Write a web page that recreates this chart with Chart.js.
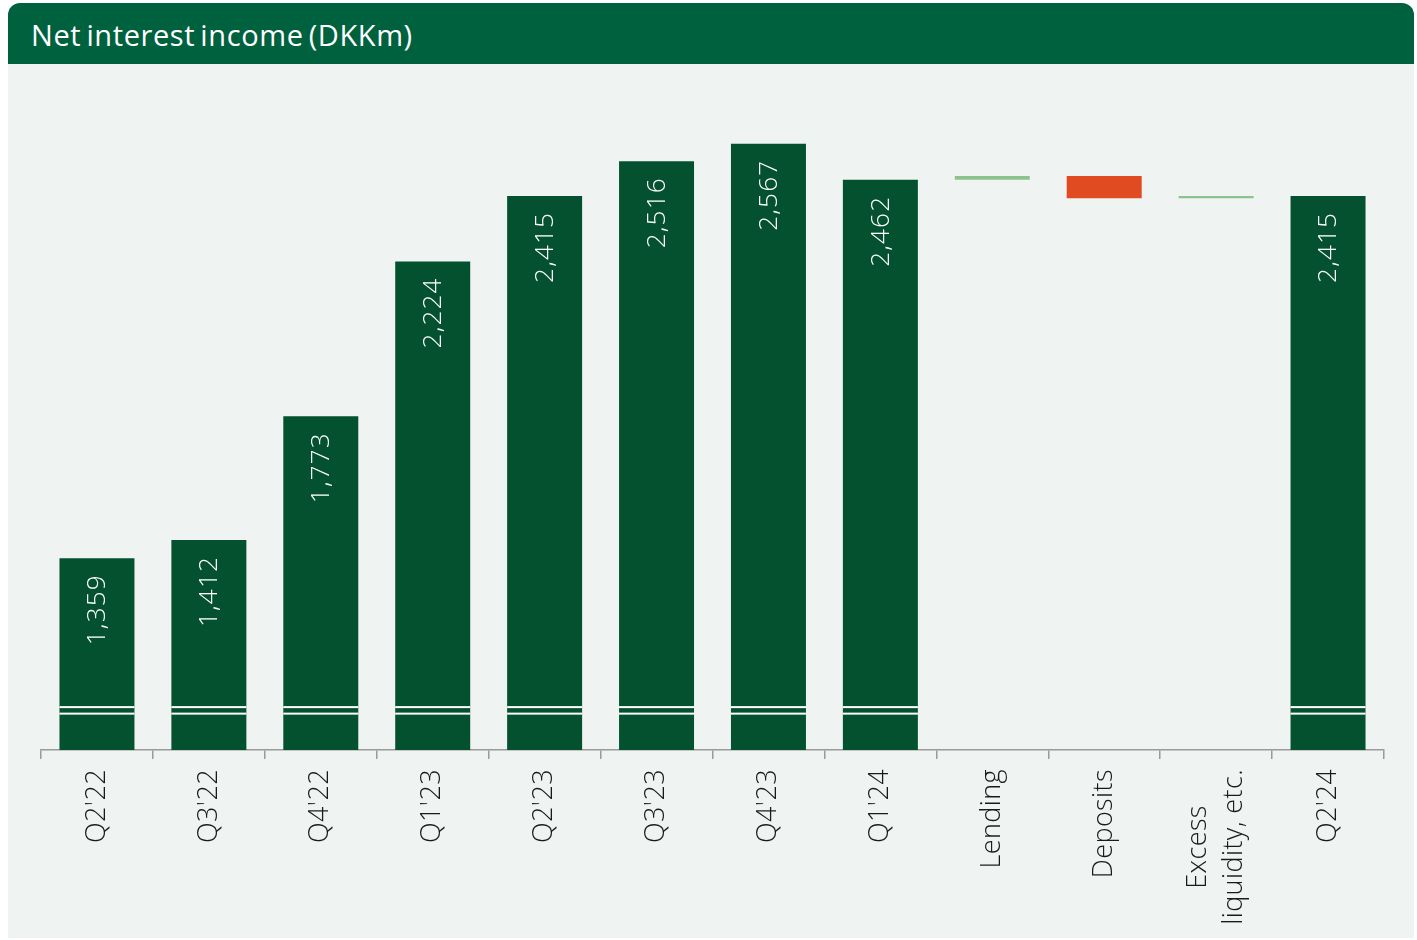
<!DOCTYPE html>
<html>
<head>
<meta charset="utf-8">
<script src="https://cdn.jsdelivr.net/npm/chart.js@4.4.1/dist/chart.umd.min.js"></script>
<style>
  html, body { margin: 0; padding: 0; background: #ffffff; }
  #panel {
    position: absolute; left: 8px; top: 3px; width: 1406px; height: 935px;
    background: #eff3f1; border-radius: 12px 12px 0 0; overflow: hidden;
  }
  #header {
    height: 61px; background: #00613f; color: #ffffff;
    font-family: "Open Sans", Lato, sans-serif; font-size: 29px; letter-spacing: 0.6px;
    word-spacing: -3px; line-height: 63px; padding-left: 23px; box-sizing: border-box;
  }
  #wrap { position: absolute; left: 0; top: 61px; width: 1406px; height: 874px; }
</style>
</head>
<body>
<div id="panel">
  <div id="header">Net interest income (DKKm)</div>
  <div id="wrap"><canvas id="nii"></canvas></div>
</div>
<script>
const categories = ["Q2'22", "Q3'22", "Q4'22", "Q1'23", "Q2'23", "Q3'23", "Q4'23", "Q1'24",
  "Lending", "Deposits", ["Excess", "liquidity, etc."], "Q2'24"];
const totals = [1359, 1412, 1773, 2224, 2415, 2516, 2567, 2462, null, null, null, 2415];
const bridgeSteps = [null, null, null, null, null, null, null, null, 11, -65, 7, null];

const AXIS_MIN = 800;
const AXIS_MAX = 2750;
const BREAK_VALUES = [925, 906];

const DARK_GREEN = "#03512f";
const UP_GREEN = "#8cc38c";
const DOWN_RED = "#e04b22";
const FONT = "'Open Sans', Lato, sans-serif";

// floating bars for the bridge, starting from the last quarter total
let running = totals[7];
const bridgeBars = bridgeSteps.map((step) => {
  if (step === null) return null;
  const start = running;
  running += step;
  return [start, running];
});
const bridgeColors = bridgeSteps.map((s) => (s !== null && s < 0 ? DOWN_RED : UP_GREEN));

const barLabels = {
  id: "barLabels",
  afterDatasetsDraw(chart) {
    const ctx = chart.ctx;
    const meta = chart.getDatasetMeta(0);
    const yScale = chart.scales.y;
    ctx.save();
    meta.data.forEach((bar, i) => {
      if (totals[i] === null) return;
      const half = bar.width / 2;
      // axis break marks
      ctx.fillStyle = "#ffffff";
      BREAK_VALUES.forEach((v) => {
        const py = yScale.getPixelForValue(v);
        ctx.fillRect(bar.x - half, py - 1, bar.width, 2);
      });
      // value label, rotated
      ctx.save();
      ctx.translate(bar.x, bar.y + 16);
      ctx.rotate(-Math.PI / 2);
      ctx.font = "300 26px " + FONT;
      ctx.letterSpacing = "1.2px";
      ctx.textAlign = "right";
      ctx.textBaseline = "middle";
      ctx.fillText(totals[i].toLocaleString("en-US"), 0, 1);
      ctx.restore();
    });
    ctx.restore();
  },
  afterDraw(chart) {
    const ctx = chart.ctx;
    const xScale = chart.scales.x;
    const lineHeight = 36;
    ctx.save();
    ctx.font = "300 27px " + FONT;
    ctx.letterSpacing = "0.4px";
    ctx.fillStyle = "#1a1a1a";
    ctx.textAlign = "center";
    ctx.textBaseline = "middle";
    categories.forEach((label, i) => {
      const lines = Array.isArray(label) ? label : [label];
      const widest = Math.max(...lines.map((l) => ctx.measureText(l).width));
      const cx = xScale.getPixelForTick(i);
      ctx.save();
      ctx.translate(cx, xScale.top + 19 + widest / 2);
      ctx.rotate(-Math.PI / 2);
      lines.forEach((l, j) => {
        ctx.fillText(l, 0, (j - (lines.length - 1) / 2) * lineHeight);
      });
      ctx.restore();
    });
    ctx.restore();
  },
};

new Chart(document.getElementById("nii"), {
  type: "bar",
  data: {
    labels: categories,
    datasets: [
      {
        data: totals,
        backgroundColor: DARK_GREEN,
        grouped: false,
        categoryPercentage: 1,
        barPercentage: 0.67,
      },
      {
        data: bridgeBars,
        backgroundColor: bridgeColors,
        grouped: false,
        categoryPercentage: 1,
        barPercentage: 0.67,
      },
    ],
  },
  options: {
    responsive: true,
    maintainAspectRatio: false,
    animation: false,
    layout: { padding: { left: 33, right: 30, top: 17, bottom: 0 } },
    plugins: { legend: { display: false }, tooltip: { enabled: false } },
    scales: {
      x: {
        offset: true,
        grid: {
          display: true,
          offset: true,
          drawOnChartArea: false,
          drawTicks: true,
          tickLength: 9,
          color: "#9a9a9a",
          lineWidth: 1.5,
        },
        border: { display: true, color: "#9a9a9a", width: 1.5 },
        ticks: { display: false },
        afterFit: (scale) => { scale.height = 188; },
      },
      y: {
        display: false,
        min: AXIS_MIN,
        max: AXIS_MAX,
      },
    },
  },
  plugins: [barLabels],
});
</script>
</body>
</html>
